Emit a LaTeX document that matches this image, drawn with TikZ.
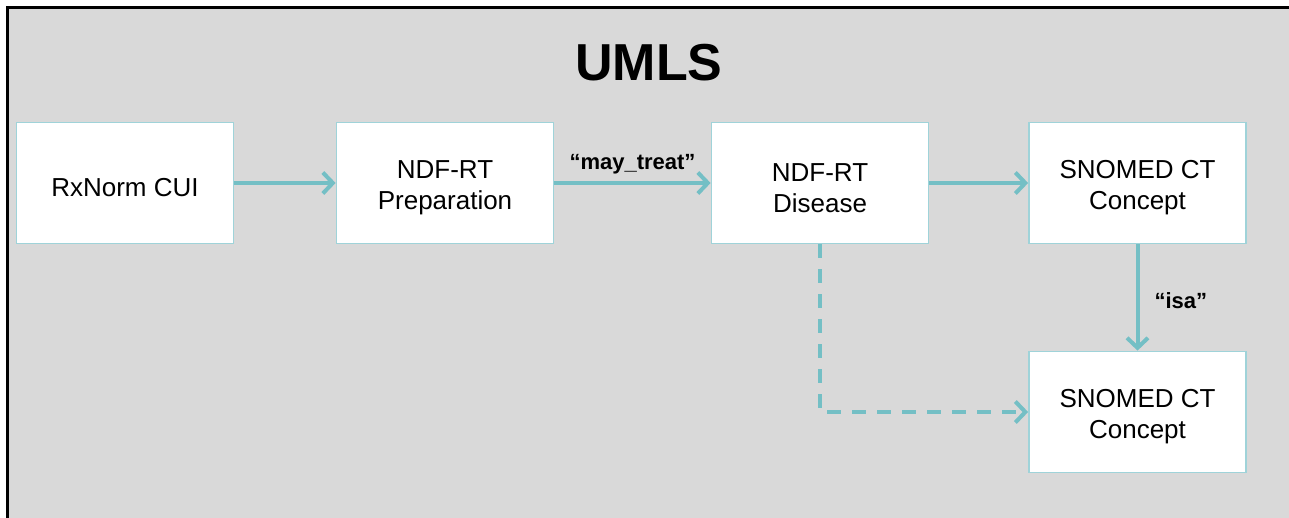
\documentclass[tikz,border=0pt]{standalone}
\usepackage{fontspec}
\setmainfont{Liberation Sans}
\usetikzlibrary{arrows.meta}
\definecolor{bg}{HTML}{D9D9D9}
\definecolor{boxline}{HTML}{9FD3D9}
\definecolor{arr}{HTML}{74BFC5}
\newcommand\toppad{\rule{0pt}{28pt}}
\begin{document}
\begin{tikzpicture}[x=1pt,y=-1pt,
  box/.style={draw=boxline, line width=1.8pt, fill=white, minimum width=217pt, minimum height=121pt, align=center, inner sep=0pt, font=\fontsize{26}{31}\selectfont},
  link/.style={draw=arr, line width=4pt, -{Straight Barb[length=10pt,width=21pt,line width=4pt]}},
  lbl/.style={inner sep=0pt, font=\bfseries\fontsize{22}{26}\selectfont}]
\useasboundingbox (0,0) rectangle (1289,518);
\fill[white] (0,0) rectangle (1289,518);
\fill[bg] (7,8) rectangle (1289,518);
\draw[line width=3pt] (7,518) -- (7,8) -- (1289,8);
\node[font=\bfseries\fontsize{52}{60}\selectfont] (title) at (649,63) {UMLS};
\node[box] (rx) at (125,183) {\toppad RxNorm CUI};
\node[box] (prep) at (445,183) {\toppad NDF-RT\\Preparation};
\node[box] (dis) at (820,183) {\toppad NDF-RT\\Disease};
\node[box] (sn1) at (1137.5,183) {\toppad SNOMED CT\\Concept};
\node[box] (sn2) at (1137.5,412) {\toppad SNOMED CT\\Concept};
\draw[link] (rx) -- (prep);
\draw[link] (prep) -- node[lbl, above=7pt] {“may\_treat”} (dis);
\draw[link] (dis) -- (sn1);
\draw[link] (sn1) -- node[lbl, right=15pt, yshift=-3pt] {“isa”} (sn2);
\draw[link, dash pattern=on 14pt off 11pt] (dis.south) |- (sn2.west);
\end{tikzpicture}
\end{document}
